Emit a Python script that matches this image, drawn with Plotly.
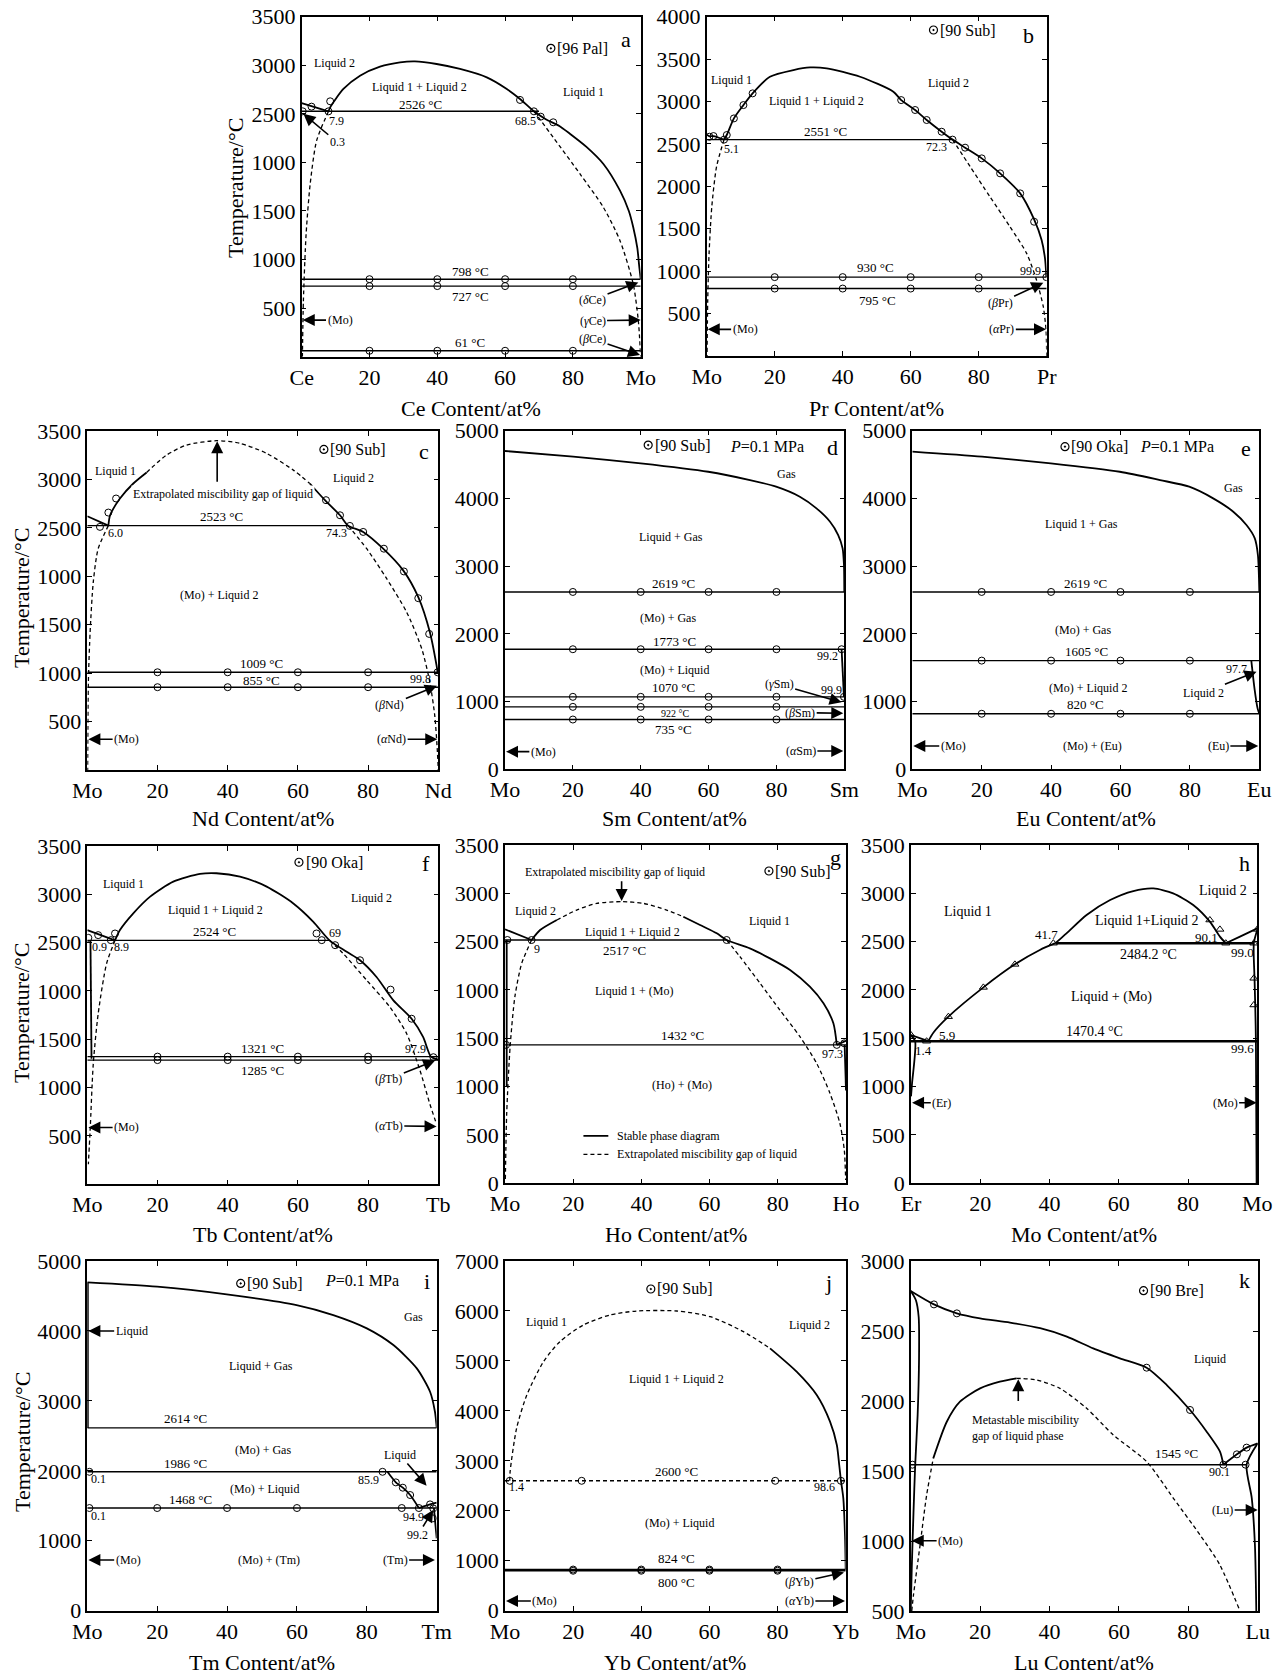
import plotly.graph_objects as go

# page is 1280x1675 (body margin removed by a post script)
W, H = 1280, 1675
OFF = 0
FONT = "Liberation Serif"

# ================= a : Ce-Mo =================
A_LIQ_X = [0, 7.9]
A_LIQ_Y = [2610, 2526]
A_DOME_X = [7.9, 8.4, 12.3, 17.2, 23.1, 29.0, 33.4, 39.8, 46.7, 54.6, 60.5, 64.4, 68.5, 72.0, 76.0, 79.2, 84.0, 89.0, 93.9, 96.5, 97.8, 99.0, 99.6, 100]
A_DOME_Y = [2526, 2567, 2756, 2893, 2986, 3030, 3040, 3013, 2962, 2876, 2756, 2653, 2526, 2445, 2375, 2293, 2160, 1984, 1709, 1500, 1332, 1120, 920, 798]
A_GAP_L_X = [7.9, 4.4, 2.5, 1.3, 0.5, 0.2]
A_GAP_L_Y = [2526, 2224, 1778, 1263, 577, 0]
A_GAP_R_X = [68.5, 74.2, 82.1, 89.0, 93.9, 97.8, 99.3, 100]
A_GAP_R_Y = [2526, 2258, 1881, 1537, 1194, 748, 370, 0]
A_ISO_T = [2526, 798, 727, 61]
A_ISO_FROM = [0, 0, 0, 0]
A_ISO_TO = [70, 100, 100, 100]
A_PTS_X = [2.9, 8.4, 7.9, 0.3, 64.4, 68.5, 70.5, 74.2, 20, 40, 60, 80, 20, 40, 60, 80, 20, 40, 60, 80]
A_PTS_Y = [2574, 2629, 2526, 2526, 2643, 2526, 2471, 2413, 798, 798, 798, 798, 727, 727, 727, 727, 61, 61, 61, 61]
A_REF = (73.5, 3174, "[96 Pal]")
A_LETTER = (95.7, 3270, "a")
A_LABELS = [(9.8, 3020, "Liquid 2"), (34.7, 2780, "Liquid 1 + Liquid 2"), (83, 2722, "Liquid 1"),
            (34.9, 2600, "2526 °C", 13), (10.3, 2430, "7.9"), (65.9, 2423, "68.5"),
            (49.7, 875, "798 °C", 13), (49.7, 615, "727 °C", 13), (49.7, 150, "61 °C", 13)]
A_ARROWS = [("0.3", 10.5, 2207, 0.5, 2500), ("(<i>δ</i>Ce)", 85.8, 587, 99.3, 765),
            ("(<i>γ</i>Ce)", 85.8, 371, 100, 377), ("(<i>β</i>Ce)", 85.8, 182, 99.8, 17),
            ("(Mo)", 11.3, 377, 0.3, 377)]

# ================= b : Mo-Pr =================
B_LIQ_X = [0, 0.8, 2.0, 5.1]
B_LIQ_Y = [2610, 2590, 2593, 2551]
B_DOME_X = [5.1, 5.9, 8.0, 10.8, 13.5, 18.6, 25.5, 30.4, 35.3, 45.1, 54.9, 57.2, 61.3, 64.7, 69.1, 72.3, 76.0, 80.9, 86.3, 92.2, 96.3, 98.5, 99.5, 99.9]
B_DOME_Y = [2551, 2605, 2801, 2958, 3096, 3292, 3371, 3402, 3391, 3292, 3116, 3017, 2900, 2782, 2644, 2551, 2456, 2330, 2153, 1917, 1610, 1367, 1150, 930]
B_GAP_L_X = [5.1, 2.9, 1.5, 0.7, 0.3, 0.1]
B_GAP_L_Y = [2551, 2232, 1760, 1210, 660, 0]
B_GAP_R_X = [72.3, 77.5, 83.3, 89.2, 94.1, 97.0, 99.0, 99.8, 100]
B_GAP_R_Y = [2551, 2232, 1878, 1524, 1210, 896, 581, 306, 0]
B_ISO_T = [2551, 930, 795]
B_ISO_FROM = [0, 0, 0]
B_ISO_TO = [72.3, 100, 100]
B_PTS_X = [0.8, 2.0, 5.1, 5.9, 8.0, 10.8, 13.5, 57.2, 61.3, 64.7, 69.1, 72.3, 76.0, 80.9, 86.3, 92.2, 96.3, 99.9, 20, 40, 60, 80, 20, 40, 60, 80]
B_PTS_Y = [2585, 2593, 2551, 2605, 2801, 2958, 3096, 3017, 2900, 2782, 2644, 2551, 2456, 2330, 2153, 1917, 1583, 930, 930, 930, 930, 930, 795, 795, 795, 795]
B_REF = (66.7, 3843, "[90 Sub]")
B_LETTER = (94.6, 3784, "b")
B_LABELS = [(7.4, 3253, "Liquid 1"), (32.4, 3010, "Liquid 1 + Liquid 2"), (71.1, 3214, "Liquid 2"),
            (35, 2645, "2551 °C", 13), (7.4, 2440, "5.1"), (67.6, 2467, "72.3"),
            (49.5, 1045, "930 °C", 13), (50.3, 655, "795 °C", 13), (95.3, 1000, "99.9")]
B_ARROWS = [("(<i>β</i>Pr)", 86.3, 629, 99.0, 864), ("(<i>α</i>Pr)", 86.8, 314, 99.8, 314),
            ("(Mo)", 11.3, 314, 0.3, 314)]

# ================= c : Mo-Nd =================
C_LIQ_X = [0, 6.0]
C_LIQ_Y = [2620, 2523]
C_DOME_L_X = [6.0, 6.5, 9.3, 13.1, 16.9]
C_DOME_L_Y = [2523, 2630, 2803, 2958, 3072]
C_DOME_TOP_X = [16.9, 22.6, 28.3, 36.8, 43.5, 51.1, 58.7, 63.4]
C_DOME_TOP_Y = [3072, 3252, 3355, 3400, 3373, 3269, 3096, 2958]
C_DOME_R_X = [63.4, 67.7, 72.0, 74.3, 78.6, 84.3, 90.0, 94.3, 97.6, 99.5, 99.8]
C_DOME_R_Y = [2958, 2786, 2630, 2523, 2458, 2285, 2061, 1785, 1422, 1080, 1009]
C_GAP_L_X = [6.0, 3.1, 1.7, 0.8, 0.3, 0.1]
C_GAP_L_Y = [2523, 2285, 1940, 1422, 904, 0]
C_GAP_R_X = [74.3, 79.6, 85.3, 91.0, 95.3, 97.6, 99.0, 99.7, 100]
C_GAP_R_Y = [2523, 2285, 1975, 1629, 1250, 904, 559, 214, 0]
C_ISO_T = [2523, 1009, 855]
C_ISO_FROM = [0, 0, 0]
C_ISO_TO = [74.3, 100, 100]
C_PTS_X = [3.6, 6.0, 8.2, 68.0, 72.0, 74.8, 78.6, 84.5, 90.2, 94.3, 97.4, 99.8, 20, 40, 60, 80, 20, 40, 60, 80]
C_PTS_Y = [2510, 2658, 2803, 2786, 2630, 2520, 2458, 2285, 2050, 1774, 1405, 1009, 1009, 1009, 1009, 1009, 855, 855, 855, 855]
C_REF = (67.4, 3310, "[90 Sub]")
C_LETTER = (95.9, 3293, "c")
C_LABELS = [(7.9, 3086, "Liquid 1"), (75.8, 3017, "Liquid 2"), (38.3, 2615, "2523 °C", 13),
            (7.9, 2447, "6.0"), (71, 2451, "74.3"), (37.6, 1802, "(Mo) + Liquid 2"),
            (49.7, 1095, "1009 °C", 13), (49.7, 928, "855 °C", 13), (95, 939, "99.8"),
            (38.6, 2848, "Extrapolated miscibility gap of liquid")]
C_ARROWS = [("", 37, 2960, 37, 3395), ("(<i>β</i>Nd)", 86.2, 670, 99.6, 870),
            ("(<i>α</i>Nd)", 86.7, 318, 99.7, 318), ("(Mo)", 11.2, 318, 0.3, 318)]

# ================= d : Mo-Sm =================
D_GAS_X = [0, 20.1, 40.0, 59.9, 72.2, 79.9, 86.9, 91.8, 95.8, 98.2, 99.5, 99.9, 100]
D_GAS_Y = [4700, 4616, 4518, 4394, 4271, 4173, 4025, 3853, 3656, 3459, 3263, 3017, 2619]
D_LIQ_X = [99.2, 99.9]
D_LIQ_Y = [1773, 1070]
D_ISO_T = [2619, 1773, 1070, 922, 735]
D_ISO_FROM = [0, 0, 0, 0, 0]
D_ISO_TO = [100, 100, 100, 100, 100]
D_PTS_X = [20, 40, 60, 80, 20, 40, 60, 80, 20, 40, 60, 80, 20, 40, 60, 80, 20, 40, 60, 80, 99.2, 99.9]
D_PTS_Y = [2619, 2619, 2619, 2619, 1773, 1773, 1773, 1773, 1070, 1070, 1070, 1070, 922, 922, 922, 922, 735, 735, 735, 735, 1773, 1070]
D_REF = (42.2, 4788, "[90 Sub]")
D_LETTER = (96.5, 4754, "d")
D_LABELS = [(77.1, 4770, "<i>P</i>=0.1 MPa", 16), (83, 4355, "Gas"), (48.9, 3435, "Liquid + Gas"),
            (49.8, 2750, "2619 °C", 13), (48.1, 2229, "(Mo) + Gas"), (50.1, 1890, "1773 °C", 13),
            (95.1, 1673, "99.2"), (50.1, 1466, "(Mo) + Liquid"), (49.8, 1210, "1070 °C", 13),
            (96.1, 1171, "99.9"), (50.1, 827, "922 °C", 10), (49.6, 581, "735 °C", 13)]
D_ARROWS = [("(<i>γ</i>Sm)", 80.8, 1255, 99.2, 989), ("(<i>β</i>Sm)", 87.0, 837, 99.7, 827),
            ("(<i>α</i>Sm)", 87.2, 271, 99.7, 271), ("(Mo)", 11.3, 261, 0.3, 261)]

# ================= e : Mo-Eu =================
E_GAS_X = [0, 20.1, 39.9, 59.8, 71.4, 79.8, 86.7, 92.5, 96.3, 98.7, 99.6, 100]
E_GAS_Y = [4690, 4616, 4518, 4394, 4271, 4173, 4001, 3804, 3607, 3410, 3164, 2619]
E_LIQ_X = [97.7, 98.6, 99.5, 100]
E_LIQ_Y = [1605, 1200, 900, 820]
E_ISO_T = [2619, 1605, 820]
E_ISO_FROM = [0, 0, 0]
E_ISO_TO = [100, 100, 100]
E_PTS_X = [20, 40, 60, 80, 20, 40, 60, 80, 20, 40, 60, 80]
E_PTS_Y = [2619, 2619, 2619, 2619, 1605, 1605, 1605, 1605, 820, 820, 820, 820]
E_REF = (44.0, 4764, "[90 Oka]")
E_LETTER = (96.3, 4739, "e")
E_LABELS = [(76.2, 4770, "<i>P</i>=0.1 MPa", 16), (92.5, 4148, "Gas"), (48.8, 3622, "Liquid 1 + Gas"),
            (50, 2740, "2619 °C", 13), (49.3, 2057, "(Mo) + Gas"), (50.2, 1740, "1605 °C", 13),
            (93.3, 1481, "97.7"), (50.7, 1196, "(Mo) + Liquid 2"), (49.9, 960, "820 °C", 13),
            (51.9, 344, "(Mo) + (Eu)")]
E_ARROWS = [("Liquid 2", 83.9, 1132, 99.2, 1442), ("(Mo)", 11.8, 344, 0.3, 344),
            ("(Eu)", 88.2, 344, 99.7, 344)]

# ================= f : Mo-Tb =================
F_LIQ_X = [0, 7.9]
F_LIQ_Y = [2630, 2524]
F_SOLV_X = [0.9, 1.2]
F_SOLV_Y = [2524, 1300]
F_DOME_X = [7.9, 9.3, 13.1, 17.9, 24.5, 32.1, 36.8, 43.5, 51.1, 58.7, 64.4, 69.0, 73.9, 77.7, 82.4, 87.2, 92.4, 95.7, 97.9, 100]
F_DOME_Y = [2524, 2630, 2803, 2976, 3131, 3211, 3218, 3183, 3080, 2906, 2716, 2524, 2405, 2318, 2145, 1903, 1713, 1522, 1321, 1290]
F_GAP_L_X = [7.9, 5.5, 3.1, 1.7, 0.8, 0.3]
F_GAP_L_Y = [2524, 2284, 1765, 1246, 554, 208]
F_GAP_R_X = [69.0, 72.9, 79.6, 86.2, 91.0, 94.8, 97.6, 99.5]
F_GAP_R_Y = [2524, 2387, 2111, 1834, 1557, 1176, 830, 623]
F_ISO_T = [2524, 1321, 1285]
F_ISO_FROM = [0, 0, 0]
F_ISO_TO = [69, 100, 100]
F_PTS_X = [3.1, 6.7, 7.9, 0.3, 65.3, 66.8, 70.6, 77.7, 86.4, 92.4, 98.6, 20, 40, 60, 80, 20, 40, 60, 80]
F_PTS_Y = [2578, 2526, 2595, 2550, 2595, 2526, 2474, 2318, 2014, 1713, 1315, 1321, 1321, 1321, 1321, 1285, 1285, 1285, 1285]
F_REF = (60.3, 3332, "[90 Oka]")
F_LETTER = (96.5, 3322, "f")
F_LABELS = [(10.3, 3104, "Liquid 1"), (36.4, 2837, "Liquid 1 + Liquid 2"), (81, 2958, "Liquid 2"),
            (36.2, 2615, "2524 °C", 13), (3.4, 2450, "0.9"), (9.8, 2450, "8.9"), (70.6, 2600, "69"),
            (50, 1410, "1321 °C", 13), (50, 1176, "1285 °C", 13), (93.5, 1401, "97.9")]
F_ARROWS = [("(<i>β</i>Tb)", 85.9, 1090, 99.1, 1280), ("(<i>α</i>Tb)", 85.9, 605, 99.5, 599),
            ("(Mo)", 11.2, 588, 0.3, 588)]

# ================= g : Mo-Ho =================
G_LIQ_X = [0, 7.8]
G_LIQ_Y = [2627, 2517]
G_SOLV_L_X = [0.5, 0.5]
G_SOLV_L_Y = [2517, 1000]
G_DOME_L_X = [7.8, 10.3, 15.2]
G_DOME_L_Y = [2517, 2620, 2724]
G_DOME_TOP_X = [15.2, 21.0, 26.9, 34.2, 40.6, 47.4, 52.3]
G_DOME_TOP_Y = [2724, 2827, 2896, 2914, 2896, 2827, 2758]
G_DOME_R_X = [52.3, 57.2, 62.1, 65.0, 71.8, 77.7, 83.6, 89.4, 93.4, 96.3, 97.3]
G_DOME_R_Y = [2758, 2672, 2586, 2517, 2431, 2327, 2207, 2034, 1862, 1655, 1432]
G_HO_X = [97.3, 100]
G_HO_Y = [1432, 1474]
G_SOLV_R_X = [99.6, 100]
G_SOLV_R_Y = [1432, 960]
G_GAP_L_X = [7.8, 4.9, 2.9, 1.5, 0.5, 0.1]
G_GAP_L_Y = [2517, 2276, 1931, 1414, 724, 34]
G_GAP_R_X = [65.0, 68.9, 74.8, 80.6, 86.5, 91.4, 95.3, 98.2, 99.5, 99.9]
G_GAP_R_Y = [2517, 2345, 2069, 1793, 1517, 1241, 931, 621, 345, 34]
G_ISO_T = [2517, 1432]
G_ISO_FROM = [0, 0]
G_ISO_TO = [65, 100]
G_PTS_X = [0.7, 7.8, 65.0, 97.3, 99.5, 0.3]
G_PTS_Y = [2517, 2517, 2517, 1432, 1448, 1432]
G_REF = (77.4, 3231, "[90 Sub]")
G_LETTER = (97.0, 3370, "g")
G_LABELS = [(32.3, 3224, "Extrapolated miscibility gap of liquid"), (8.8, 2817, "Liquid 2"),
            (37.4, 2603, "Liquid 1 + Liquid 2"), (77.5, 2717, "Liquid 1"), (34.9, 2407, "2517 °C", 13),
            (9.5, 2424, "9"), (37.8, 1990, "Liquid 1 + (Mo)"), (52.1, 1530, "1432 °C", 13),
            (96, 1338, "97.3"), (52, 1017, "(Ho) + (Mo)"),
            (32.3, 490, "Stable phase diagram", 12, "left"),
            (32.3, 300, "Extrapolated miscibility gap of liquid", 12, "left")]
G_ARROWS = [("", 34.2, 3140, 34.2, 2920)]
G_KEY_SOLID = ([23, 30.3], 490)
G_KEY_DASH = ([23, 30.8], 300)

# ================= h : Er-Mo =================
H_LIQ_ER_X = [0, 5.0]
H_LIQ_ER_Y = [1534, 1470]
H_SOLV_ER_X = [0, 1.2, 0.3, 0]
H_SOLV_ER_Y = [1534, 1470, 1034, 900]
H_RISE_X = [5.0, 6.5, 10.8, 20.9, 30.0, 37.2, 41.7]
H_RISE_Y = [1470, 1560, 1724, 2027, 2265, 2414, 2484]
H_DOME_X = [41.7, 44.9, 50.7, 57.5, 64.2, 70.0, 75.7, 81.5, 86.3, 89.2, 90.9]
H_DOME_Y = [2484, 2586, 2776, 2931, 3024, 3051, 3000, 2879, 2707, 2552, 2484]
H_LIQ_MO_X = [90.9, 95.0, 100]
H_LIQ_MO_Y = [2484, 2552, 2638]
H_SOL_MO_X = [100, 99.0, 99.2, 99.4, 99.6, 99.8]
H_SOL_MO_Y = [2623, 2484, 2121, 1845, 1470, 0]
H_ISO_T = [2484.2, 1470.4]
H_ISO_FROM = [41.7, 0]
H_ISO_TO = [99, 100]
H_PTS_X = [0, 4.5, 10.8, 20.9, 30.0, 41.1, 86.3, 89.2, 90.9, 99.0, 99.0, 99.0, 100]
H_PTS_Y = [1534, 1470, 1724, 2027, 2265, 2484, 2724, 2627, 2484, 2484, 2121, 1845, 2627]
H_LETTER = (96.4, 3310, "h")
H_LABELS = [(16.6, 2810, "Liquid 1", 14), (68.2, 2717, "Liquid 1+Liquid 2", 14), (90.2, 3034, "Liquid 2", 14),
            (39.2, 2569, "41.7", 13), (85.4, 2545, "90.1", 13), (68.5, 2369, "2484.2 °C", 14),
            (95.7, 2390, "99.0", 13), (57.9, 1931, "Liquid + (Mo)", 14), (53.1, 1569, "1470.4 °C", 14),
            (10.3, 1524, "5.9", 13), (3.6, 1379, "1.4", 13), (95.8, 1396, "99.6", 13)]
H_ARROWS = [("(Er)", 8.9, 834, 0.3, 834), ("(Mo)", 90.7, 834, 99.8, 834)]

# ================= i : Mo-Tm =================
I_GAS_X = [0, 20.0, 39.9, 59.9, 70.4, 80.0, 87.6, 94.3, 98.1, 99.5, 100]
I_GAS_Y = [4694, 4633, 4523, 4370, 4227, 4037, 3798, 3465, 3131, 2845, 2614]
I_LEFT_X = [0.15, 0.15]
I_LEFT_Y = [4694, 2614]
I_LIQ_X = [85.9, 88.3, 90.3, 92.4, 94.9]
I_LIQ_Y = [1986, 1835, 1759, 1654, 1468]
I_LIQ_TM_X = [94.9, 98.1, 100]
I_LIQ_TM_Y = [1468, 1520, 1545]
I_SOLV_X = [99.2, 100]
I_SOLV_Y = [1468, 1034]
I_ISO_T = [2614, 1986, 1468]
I_ISO_FROM = [0, 0, 0]
I_ISO_TO = [100, 100, 100]
I_PTS_X = [0.6, 84.5, 88.3, 90.3, 92.4, 0.6, 20, 40, 60, 90, 94.9, 98.1, 99.0, 98.9]
I_PTS_Y = [1986, 1986, 1835, 1759, 1654, 1468, 1468, 1468, 1468, 1468, 1468, 1520, 1463, 1320]
I_REF = (43.9, 4680, "[90 Sub]")
I_LETTER = (97.1, 4714, "i")
I_LABELS = [(78.5, 4720, "<i>P</i>=0.1 MPa", 16), (93.3, 4204, "Gas"), (49.6, 3503, "Liquid + Gas"),
            (28, 2745, "2614 °C", 13), (50.4, 2297, "(Mo) + Gas"), (28, 2100, "1986 °C", 13),
            (3.1, 1878, "0.1"), (50.7, 1740, "(Mo) + Liquid"), (80.4, 1868, "85.9"),
            (29.6, 1585, "1468 °C", 13), (3.1, 1358, "0.1"), (93.3, 1344, "94.9"),
            (52.1, 724, "(Mo) + (Tm)")]
I_ARROWS = [("Liquid", 12.7, 3999, 0.3, 3999), ("Liquid", 89.5, 2226, 97.1, 1787),
            ("99.2", 94.6, 1082, 99.0, 1440), ("(Mo)", 11.7, 724, 0.3, 724),
            ("(Tm)", 88.1, 724, 99.5, 724)]

# ================= j : Mo-Yb =================
J_DOME_DASH_X = [1.4, 1.5, 3.4, 6.4, 11.3, 16.1, 23.0, 30.8, 38.6, 50.4, 60.2, 70.0, 77.8]
J_DOME_DASH_Y = [2600, 2783, 3650, 4317, 4985, 5385, 5719, 5919, 5999, 5999, 5886, 5585, 5252]
J_DOME_SOLID_X = [77.8, 85.6, 91.5, 95.4, 97.4, 98.1, 98.6]
J_DOME_SOLID_Y = [5252, 4785, 4317, 3784, 3317, 2916, 2600]
J_LIQ_X = [98.6, 99.3, 99.8, 100]
J_LIQ_Y = [2600, 2249, 1500, 824]
J_ISO_T = [2600, 824, 800]
J_ISO_FROM = [0, 0, 0]
J_ISO_TO = [100, 100, 100]
J_PTS_X = [1.4, 22.5, 79.3, 98.6, 20, 40, 60, 80, 20, 40, 60, 80]
J_PTS_Y = [2600, 2600, 2600, 2600, 824, 824, 824, 824, 800, 800, 800, 800]
J_REF = (42.8, 6440, "[90 Sub]")
J_LETTER = (94.9, 6573, "j")
J_LABELS = [(12.2, 5772, "Liquid 1"), (89.3, 5719, "Liquid 2"), (50.4, 4631, "Liquid 1 + Liquid 2"),
            (50.4, 2790, "2600 °C", 13), (3.4, 2469, "1.4"), (93.9, 2469, "98.6"),
            (51.1, 1762, "(Mo) + Liquid"), (50.4, 1035, "824 °C", 13), (50.4, 565, "800 °C", 13)]
J_ARROWS = [("(<i>β</i>Yb)", 86.4, 567, 99.5, 767), ("(<i>α</i>Yb)", 86.4, 194, 99.8, 194),
            ("(Mo)", 11.7, 194, 0.3, 194)]

# ================= k : Mo-Lu =================
K_LIQ_X = [0, 6.7, 13.3, 20.0, 28.6, 37.3, 45.0, 52.6, 60.3, 68.0, 73.8, 80.5, 85.3, 89.1, 90.1]
K_LIQ_Y = [2786, 2690, 2626, 2590, 2560, 2520, 2460, 2376, 2305, 2238, 2114, 1936, 1781, 1640, 1545]
K_LIQ_LU_X = [90.1, 94.0, 96.8, 100]
K_LIQ_LU_Y = [1545, 1619, 1667, 1698]
K_SOL_LU_X = [100, 96.8, 98.3, 99.2, 99.6]
K_SOL_LU_Y = [1698, 1545, 1305, 971, 500]
K_SOL_MO_X = [0, 1.5, 2.3, 2.4, 2.0, 1.3, 0.8, 0.3, 0]
K_SOL_MO_Y = [2786, 2720, 2600, 2300, 1900, 1545, 1200, 800, 500]
K_GAP_L_X = [0.3, 0.8, 2.7, 4.6, 6.5]
K_GAP_L_Y = [500, 614, 971, 1329, 1590]
K_GAP_MID_X = [6.5, 10.4, 14.2, 20.0, 25.7, 30.5]
K_GAP_MID_Y = [1590, 1852, 1995, 2090, 2138, 2162]
K_GAP_R_X = [30.5, 36.3, 43.0, 50.7, 58.4, 68.0, 75.7, 83.4, 89.1, 94.9]
K_GAP_R_Y = [2162, 2150, 2090, 1948, 1757, 1567, 1305, 1043, 829, 500]
K_ISO_T = [1545]
K_ISO_FROM = [0]
K_ISO_TO = [96.8]
K_PTS_X = [0.5, 6.7, 13.3, 68.0, 80.5, 90.1, 94.0, 96.8, 96.5]
K_PTS_Y = [1545, 2690, 2626, 2238, 1936, 1545, 1619, 1667, 1545]
K_REF = (67.1, 2788, "[90 Bre]")
K_LETTER = (96.2, 2864, "k")
K_LABELS = [(86.3, 2300, "Liquid"), (17.1, 1810, "Metastable miscibility<br>gap of liquid phase", 12, "left"),
            (76.7, 1625, "1545 °C", 13), (89.0, 1495, "90.1")]
K_ARROWS = [("", 31, 1990, 31, 2155), ("(Lu)", 89.9, 1221, 100, 1221), ("(Mo)", 11.5, 1002, 0.3, 1002)]

# ---------------- tick labels ----------------
T3500 = [0, 500, 1000, 1500, 2000, 2500, 3000, 3500]
T3500_TYPO = ["", "500", "1000", "1500", "1000", "2500", "3000", "3500"]
T3500_TYPO0 = ["0", "500", "1000", "1500", "1000", "2500", "3000", "3500"]
T3500_OK = ["0", "500", "1000", "1500", "2000", "2500", "3000", "3500"]
T4000 = [500, 1000, 1500, 2000, 2500, 3000, 3500, 4000]
T5000 = [0, 1000, 2000, 3000, 4000, 5000]
T7000 = [0, 1000, 2000, 3000, 4000, 5000, 6000, 7000]
T3000 = [500, 1000, 1500, 2000, 2500, 3000]

# ====================================================
fig = go.Figure()
ann = []
shapes = []
AX = dict(showline=True, linecolor="black", linewidth=1.5, mirror="ticks", ticks="inside",
          ticklen=5, tickwidth=1.2, tickcolor="black", showgrid=False, zeroline=False,
          automargin=False, ticklabeloverflow="allow",
          tickfont=dict(family=FONT, size=22, color="black"), fixedrange=True)


def fx(px):
    return (px - OFF) / W


def fy(py):
    return 1 - (py - OFF) / H


def panel(n, box, yrange, ytv, ytt, ends, xtitle, curves, iso, pts, ref, letter, labels, arrows,
          sym="circle-open", iso_w=1.4, iso_dash=None, fs=12, ytitle=False):
    sx = "" if n == 1 else str(n)
    xa, ya = "x" + sx, "y" + sx
    l, t, r, b = box
    fig.update_layout({
        "xaxis" + sx: dict(domain=[fx(l), fx(r)], range=[0, 100], anchor=ya,
                           tickvals=[0, 20, 40, 60, 80, 100],
                           ticktext=[ends[0], "20", "40", "60", "80", ends[1]], **AX),
        "yaxis" + sx: dict(domain=[fy(b), fy(t)], range=yrange, anchor=xa,
                           tickvals=ytv, ticktext=ytt, **AX),
    })
    for xs, ys, style in curves:
        fig.add_trace(go.Scatter(
            x=xs, y=ys, mode="lines", xaxis=xa, yaxis=ya, showlegend=False, hoverinfo="skip",
            line=dict(color="black", width=1.8 if style == "solid" else 1.3,
                      dash="solid" if style == "solid" else "4px,3px",
                      shape="spline", smoothing=0.7)))
    tt, x0s, x1s = iso
    for k, (T, a0, a1) in enumerate(zip(tt, x0s, x1s)):
        dashed = iso_dash is not None and iso_dash[k]
        fig.add_trace(go.Scatter(
            x=[a0, a1], y=[T, T], mode="lines", xaxis=xa, yaxis=ya, showlegend=False,
            hoverinfo="skip",
            line=dict(color="black", width=iso_w, dash="4px,3px" if dashed else "solid")))
    px, py = pts
    fig.add_trace(go.Scatter(
        x=px, y=py, mode="markers", xaxis=xa, yaxis=ya, showlegend=False, hoverinfo="skip",
        marker=dict(symbol=sym, size=7, color="black", line=dict(width=1, color="black"))))
    if ref is not None:
        fig.add_trace(go.Scatter(
            x=[ref[0]], y=[ref[1]], mode="markers", xaxis=xa, yaxis=ya, showlegend=False,
            hoverinfo="skip",
            marker=dict(symbol="circle-open-dot", size=8, color="black", line=dict(width=1.2))))
        ann.append(dict(x=ref[0] + 1.3, y=ref[1], xref=xa, yref=ya, text=ref[2], showarrow=False,
                        xanchor="left", yanchor="middle",
                        font=dict(family=FONT, size=16, color="black")))
    ann.append(dict(x=letter[0], y=letter[1], xref=xa, yref=ya, text=letter[2], showarrow=False,
                    xanchor="center", yanchor="middle", font=dict(family=FONT, size=22, color="black")))
    for lab in labels:
        size = lab[3] if len(lab) > 3 else fs
        anchor = lab[4] if len(lab) > 4 else "center"
        a = dict(x=lab[0], y=lab[1], xref=xa, yref=ya, text=lab[2], showarrow=False,
                 xanchor=anchor, yanchor="middle", align="left",
                 font=dict(family=FONT, size=size, color="black"))
        if lab[2].startswith("Extrapolated") and anchor == "center":
            a["bgcolor"] = "white"
        ann.append(a)
    for text, tx, ty, hx, hy in arrows:
        ann.append(dict(x=hx, y=hy, ax=tx, ay=ty, xref=xa, yref=ya, axref=xa, ayref=ya,
                        text=text, showarrow=True, arrowhead=2, arrowsize=1.5, arrowwidth=1.6,
                        arrowcolor="black", standoff=0,
                        font=dict(family=FONT, size=12, color="black")))
    ann.append(dict(x=fx((l + r) / 2), y=fy(XT_Y[n]), xref="paper", yref="paper",
                    text=xtitle, showarrow=False, xanchor="center", yanchor="middle",
                    font=dict(family=FONT, size=22, color="black")))
    if ytitle:
        ann.append(dict(x=fx(ytitle[0]), y=fy(ytitle[1]), xref="paper", yref="paper",
                        text="Temperature/°C", showarrow=False, textangle=-90,
                        xanchor="center", yanchor="middle",
                        font=dict(family=FONT, size=22, color="black")))
    return xa, ya


XT_Y = {1: 408, 2: 408, 3: 819, 4: 819, 5: 819, 6: 1234, 7: 1234, 8: 1234, 9: 1662, 10: 1662, 11: 1662}

S, D = "solid", "dash"

panel(1, (301.7, 16.7, 640.7, 356.7), [0, 3500], T3500, T3500_TYPO, ("Ce", "Mo"), "Ce Content/at%",
      [(A_LIQ_X, A_LIQ_Y, S), (A_DOME_X, A_DOME_Y, S), (A_GAP_L_X, A_GAP_L_Y, D), (A_GAP_R_X, A_GAP_R_Y, D)],
      (A_ISO_T, A_ISO_FROM, A_ISO_TO), (A_PTS_X, A_PTS_Y), A_REF, A_LETTER, A_LABELS, A_ARROWS,
      ytitle=(236, 188))

panel(2, (706.7, 16.7, 1046.7, 356.0), [0, 4000], T4000, [str(v) for v in T4000], ("Mo", "Pr"), "Pr Content/at%",
      [(B_LIQ_X, B_LIQ_Y, S), (B_DOME_X, B_DOME_Y, S), (B_GAP_L_X, B_GAP_L_Y, D), (B_GAP_R_X, B_GAP_R_Y, D)],
      (B_ISO_T, B_ISO_FROM, B_ISO_TO), (B_PTS_X, B_PTS_Y), B_REF, B_LETTER, B_LABELS, B_ARROWS)

panel(3, (87.3, 431.0, 438.3, 770.0), [0, 3500], T3500, T3500_TYPO, ("Mo", "Nd"), "Nd Content/at%",
      [(C_LIQ_X, C_LIQ_Y, S), (C_DOME_L_X, C_DOME_L_Y, S), (C_DOME_TOP_X, C_DOME_TOP_Y, D),
       (C_DOME_R_X, C_DOME_R_Y, S), (C_GAP_L_X, C_GAP_L_Y, D), (C_GAP_R_X, C_GAP_R_Y, D)],
      (C_ISO_T, C_ISO_FROM, C_ISO_TO), (C_PTS_X, C_PTS_Y), C_REF, C_LETTER, C_LABELS, C_ARROWS,
      ytitle=(22, 598))

panel(4, (505.0, 430.7, 844.3, 769.3), [0, 5000], T5000, [str(v) for v in T5000], ("Mo", "Sm"), "Sm Content/at%",
      [(D_GAS_X, D_GAS_Y, S), (D_LIQ_X, D_LIQ_Y, S)],
      (D_ISO_T, D_ISO_FROM, D_ISO_TO), (D_PTS_X, D_PTS_Y), D_REF, D_LETTER, D_LABELS, D_ARROWS)

panel(5, (912.3, 430.7, 1259.3, 769.3), [0, 5000], T5000, [str(v) for v in T5000], ("Mo", "Eu"), "Eu Content/at%",
      [(E_GAS_X, E_GAS_Y, S), (E_LIQ_X, E_LIQ_Y, S)],
      (E_ISO_T, E_ISO_FROM, E_ISO_TO), (E_PTS_X, E_PTS_Y), E_REF, E_LETTER, E_LABELS, E_ARROWS)

panel(6, (87.3, 846.0, 438.3, 1184.3), [0, 3500], T3500, T3500_TYPO, ("Mo", "Tb"), "Tb Content/at%",
      [(F_LIQ_X, F_LIQ_Y, S), (F_SOLV_X, F_SOLV_Y, S), (F_DOME_X, F_DOME_Y, S),
       (F_GAP_L_X, F_GAP_L_Y, D), (F_GAP_R_X, F_GAP_R_Y, D)],
      (F_ISO_T, F_ISO_FROM, F_ISO_TO), (F_PTS_X, F_PTS_Y), F_REF, F_LETTER, F_LABELS, F_ARROWS,
      ytitle=(22, 1013))

xa7, ya7 = panel(7, (505.0, 845.0, 846.0, 1183.3), [0, 3500], T3500, T3500_TYPO0, ("Mo", "Ho"), "Ho Content/at%",
      [(G_LIQ_X, G_LIQ_Y, S), (G_SOLV_L_X, G_SOLV_L_Y, S), (G_DOME_L_X, G_DOME_L_Y, S),
       (G_DOME_TOP_X, G_DOME_TOP_Y, D), (G_DOME_R_X, G_DOME_R_Y, S), (G_HO_X, G_HO_Y, S),
       (G_SOLV_R_X, G_SOLV_R_Y, S), (G_GAP_L_X, G_GAP_L_Y, D), (G_GAP_R_X, G_GAP_R_Y, D)],
      (G_ISO_T, G_ISO_FROM, G_ISO_TO), (G_PTS_X, G_PTS_Y), G_REF, G_LETTER, G_LABELS, G_ARROWS)
shapes.append(dict(type="line", xref=xa7, yref=ya7, x0=G_KEY_SOLID[0][0], x1=G_KEY_SOLID[0][1],
                   y0=G_KEY_SOLID[1], y1=G_KEY_SOLID[1], line=dict(color="black", width=1.8)))
shapes.append(dict(type="line", xref=xa7, yref=ya7, x0=G_KEY_DASH[0][0], x1=G_KEY_DASH[0][1],
                   y0=G_KEY_DASH[1], y1=G_KEY_DASH[1], line=dict(color="black", width=1.3, dash="4px,3px")))

panel(8, (911.0, 845.0, 1257.3, 1183.3), [0, 3500], T3500, T3500_OK, ("Er", "Mo"), "Mo Content/at%",
      [(H_LIQ_ER_X, H_LIQ_ER_Y, S), (H_SOLV_ER_X, H_SOLV_ER_Y, S), (H_RISE_X, H_RISE_Y, S),
       (H_DOME_X, H_DOME_Y, S), (H_LIQ_MO_X, H_LIQ_MO_Y, S), (H_SOL_MO_X, H_SOL_MO_Y, S)],
      (H_ISO_T, H_ISO_FROM, H_ISO_TO), (H_PTS_X, H_PTS_Y), None, H_LETTER, H_LABELS, H_ARROWS,
      sym="triangle-up-open", iso_w=2.6)

panel(9, (87.3, 1261.0, 436.7, 1610.7), [0, 5000], T5000, [str(v) for v in T5000], ("Mo", "Tm"), "Tm Content/at%",
      [(I_GAS_X, I_GAS_Y, S), (I_LEFT_X, I_LEFT_Y, S), (I_LIQ_X, I_LIQ_Y, S), (I_LIQ_TM_X, I_LIQ_TM_Y, S),
       (I_SOLV_X, I_SOLV_Y, S)],
      (I_ISO_T, I_ISO_FROM, I_ISO_TO), (I_PTS_X, I_PTS_Y), I_REF, I_LETTER, I_LABELS, I_ARROWS,
      ytitle=(22, 1442))

fig.add_trace(go.Scatter(x=[0, 100, 100, 0], y=[J_ISO_T[2], J_ISO_T[2], J_ISO_T[1], J_ISO_T[1]],
                         fill="toself", fillcolor="#bdbdbd", line=dict(width=0), mode="lines",
                         xaxis="x10", yaxis="y10", showlegend=False, hoverinfo="skip"))
panel(10, (505.0, 1261.0, 845.7, 1610.7), [0, 7000], T7000, [str(v) for v in T7000], ("Mo", "Yb"), "Yb Content/at%",
      [(J_DOME_DASH_X, J_DOME_DASH_Y, D), (J_DOME_SOLID_X, J_DOME_SOLID_Y, S), (J_LIQ_X, J_LIQ_Y, S)],
      (J_ISO_T, J_ISO_FROM, J_ISO_TO), (J_PTS_X, J_PTS_Y), J_REF, J_LETTER, J_LABELS, J_ARROWS,
      iso_dash=[True, False, False], iso_w=1.6)

panel(11, (910.7, 1261.0, 1257.7, 1611.0), [500, 3000], T3000, [str(v) for v in T3000], ("Mo", "Lu"), "Lu Content/at%",
      [(K_LIQ_X, K_LIQ_Y, S), (K_LIQ_LU_X, K_LIQ_LU_Y, S), (K_SOL_LU_X, K_SOL_LU_Y, S),
       (K_SOL_MO_X, K_SOL_MO_Y, S), (K_GAP_L_X, K_GAP_L_Y, D), (K_GAP_MID_X, K_GAP_MID_Y, S),
       (K_GAP_R_X, K_GAP_R_Y, D)],
      (K_ISO_T, K_ISO_FROM, K_ISO_TO), (K_PTS_X, K_PTS_Y), K_REF, K_LETTER, K_LABELS, K_ARROWS)

fig.update_layout(width=W, height=H, autosize=False, margin=dict(l=0, r=0, t=0, b=0, pad=0),
                  paper_bgcolor="white", plot_bgcolor="white", showlegend=False,
                  annotations=ann, shapes=shapes, font=dict(family=FONT, color="black"))

fig.write_html("out.html", include_plotlyjs=True, config={"displayModeBar": False},
               post_script="document.body.style.margin='0';document.body.style.overflow='hidden';")
